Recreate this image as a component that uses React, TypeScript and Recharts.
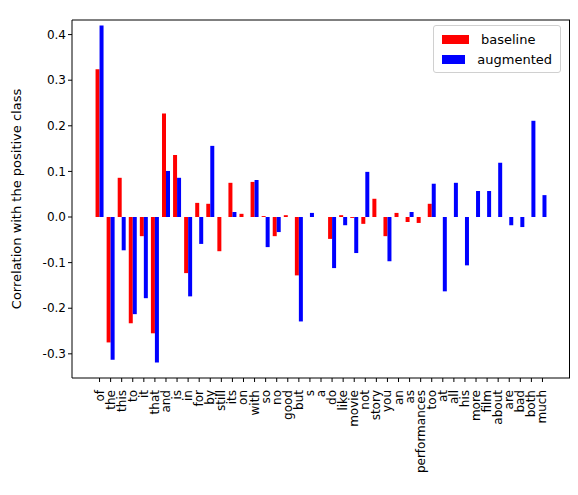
import { BarChart, Bar, XAxis, YAxis, ReferenceLine } from "recharts";

const words = ["of", "the", "this", "to", "it", "that", "and", "is", "in", "for", "by", "still", "its", "on", "with", "so", "no", "good", "but", "s", "a", "do", "like", "movie", "not", "story", "you", "an", "as", "performances", "too", "at", "all", "his", "more", "film", "about", "are", "bad", "both", "much"];
const baseline = [0.324, -0.275, 0.086, -0.233, -0.042, -0.255, 0.227, 0.136, -0.123, 0.031, 0.029, -0.075, 0.075, 0.007, 0.077, 0.002, -0.042, 0.004, -0.128, 0, 0, -0.048, 0.004, -0.002, -0.015, 0.040, -0.042, 0.009, -0.011, -0.013, 0.029, 0, 0, 0, 0, 0, 0, 0, 0, 0, 0];
const augmented = [0.42, -0.313, -0.073, -0.213, -0.178, -0.319, 0.101, 0.086, -0.174, -0.059, 0.156, 0, 0.011, 0, 0.081, -0.066, -0.033, 0, -0.229, 0.009, 0, -0.112, -0.018, -0.079, 0.099, 0, -0.097, 0, 0.011, 0, 0.073, -0.163, 0.075, -0.106, 0.057, 0.057, 0.119, -0.018, -0.022, 0.211, 0.048];
const yTicks = [-0.3, -0.2, -0.1, 0, 0.1, 0.2, 0.3, 0.4];
const series = [["baseline", "red"], ["augmented", "blue"]];

const data = words.map((w, i) => ({ word: w, baseline: baseline[i], augmented: augmented[i] }));

const font = "DejaVu Sans, sans-serif";

function VerticalTick({ x, y, payload }: any) {
  return (
    <text x={x} y={y + 6} transform={`rotate(-90 ${x} ${y + 6})`} textAnchor="end" dominantBaseline="central" fontSize={12} fill="#000" fontFamily={font}>
      {payload.value}
    </text>
  );
}

export default function App() {
  return (
    <div style={{ position: "absolute", left: 0, top: 0, width: 578, height: 495, background: "#fff" }}>
      <BarChart width={578} height={495} data={data} margin={{ top: 20, right: 8, left: 12, bottom: 0 }} barGap={0} barCategoryGap="14%">
        <XAxis dataKey="word" interval={0} tick={<VerticalTick />} height={117} padding={{ left: 22, right: 22 }} stroke="#000" tickSize={4} />
        <YAxis domain={[-0.353, 0.432]} ticks={yTicks} tickFormatter={(v) => v.toFixed(1)} width={60} stroke="#000" tickSize={4}
          tick={{ fontSize: 12, fill: "#000", fontFamily: font }}
          label={{ value: "Correlation with the positive class", angle: -90, position: "insideLeft", offset: 0, dx: 4, style: { fontSize: 13, fontFamily: font, fill: "#000", textAnchor: "middle" } }} />
        <Bar dataKey="baseline" fill="red" isAnimationActive={false} />
        <Bar dataKey="augmented" fill="blue" isAnimationActive={false} />
        <ReferenceLine y={0.432} stroke="#000" />
      </BarChart>
      <div style={{ position: "absolute", left: 569, top: 20, width: 1, height: 358, background: "#000" }} />
      <div style={{ position: "absolute", left: 433, top: 25, width: 128, boxSizing: "border-box", border: "1px solid #d0d0d0", borderRadius: 3, background: "#fff", padding: "3px 8px", fontFamily: font, fontSize: 13 }}>
        {series.map(([n, c]) => (
          <div key={n} style={{ display: "flex", alignItems: "center", height: 20 }}>
            <span style={{ width: 27, height: 9, background: c, marginRight: 12 }} />
            {n}
          </div>
        ))}
      </div>
    </div>
  );
}
